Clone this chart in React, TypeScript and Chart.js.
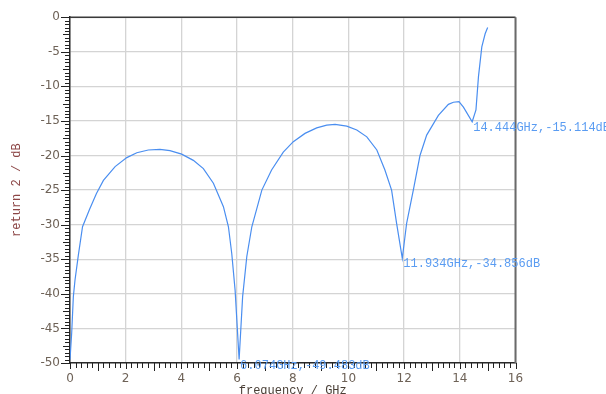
import React, { useEffect, useRef } from "react";
import { Chart, registerables } from "chart.js";

Chart.register(...registerables);

// frequency in GHz
const frequency: number[] = [
  0.0, 0.06, 0.12, 0.18, 0.3, 0.45, 0.7, 0.95, 1.2, 1.62, 2.04, 2.4, 2.81, 3.23,
  3.59, 4.01, 4.43, 4.79, 5.15, 5.51, 5.69, 5.81, 5.93, 6.074, 6.2, 6.35, 6.53,
  6.89, 7.24, 7.66, 8.02, 8.44, 8.86, 9.22, 9.52, 9.94, 10.3, 10.66, 11.02,
  11.31, 11.55, 11.73, 11.934, 12.09, 12.33, 12.57, 12.81, 13.23, 13.59, 13.77,
  13.97, 14.13, 14.444, 14.58, 14.67, 14.79, 14.91, 15.0,
];
// return 2 in dB
const returnLoss: number[] = [
  -49.5, -45.7, -40.4, -38.0, -34.4, -30.3, -27.8, -25.5, -23.6, -21.6, -20.3,
  -19.6, -19.2, -19.1, -19.3, -19.8, -20.7, -21.9, -24.0, -27.4, -30.3, -34.2,
  -39.5, -49.483, -40.4, -34.6, -30.3, -25.0, -22.1, -19.5, -18.0, -16.8, -16.0,
  -15.6, -15.5, -15.75, -16.3, -17.3, -19.2, -22.1, -25.0, -29.8, -34.856, -29.8,
  -25.0, -20.0, -17.05, -14.2, -12.6, -12.3, -12.2, -13.0, -15.114, -13.4, -8.6,
  -4.3, -2.4, -1.5,
];
// marker annotations
const markerFreq: number[] = [6.074, 11.934, 14.444];
const markerDb: number[] = [-49.483, -34.856, -15.114];

const X_MIN = 0;
const X_MAX = 16;
const Y_MIN = -50;
const Y_MAX = 0;

const decorPlugin = {
  id: "decor",
  afterDraw(chart: any) {
    const { ctx, chartArea } = chart;
    const xs = chart.scales.x;
    const ys = chart.scales.y;
    ctx.save();
    // top border
    ctx.strokeStyle = "#3a3a3a";
    ctx.lineWidth = 1.5;
    ctx.beginPath();
    ctx.moveTo(chartArea.left, chartArea.top);
    ctx.lineTo(chartArea.right, chartArea.top);
    ctx.stroke();
    // right border
    ctx.strokeStyle = "#6a6a6a";
    ctx.lineWidth = 2;
    ctx.beginPath();
    ctx.moveTo(chartArea.right, chartArea.top);
    ctx.lineTo(chartArea.right, chartArea.bottom);
    ctx.stroke();
    // y ticks (outside, left)
    ctx.strokeStyle = "#222";
    ctx.lineWidth = 1;
    for (let i = 0; i <= 100; i++) {
      const v = Y_MAX - i * 0.5;
      const py = Math.round(ys.getPixelForValue(v)) + 0.5;
      const len = i % 10 === 0 ? 9 : i % 5 === 0 ? 7 : 5;
      ctx.beginPath();
      ctx.moveTo(chartArea.left - len, py);
      ctx.lineTo(chartArea.left, py);
      ctx.stroke();
    }
    // x ticks (outside, below)
    for (let i = 0; i <= 80; i++) {
      const f = X_MIN + i * 0.2;
      const px = Math.round(xs.getPixelForValue(f)) + 0.5;
      const len = i % 10 === 0 ? 6 : i % 5 === 0 ? 8 : 5;
      ctx.beginPath();
      ctx.moveTo(px, chartArea.bottom);
      ctx.lineTo(px, chartArea.bottom + len);
      ctx.stroke();
    }
    // marker annotations
    ctx.fillStyle = "#5a9cf2";
    ctx.font = "12px 'Liberation Mono', 'DejaVu Sans Mono', monospace";
    ctx.textBaseline = "top";
    ctx.textAlign = "left";
    for (let k = 0; k < markerFreq.length; k++) {
      const px = xs.getPixelForValue(markerFreq[k]);
      const py = ys.getPixelForValue(markerDb[k]);
      const label = `${markerFreq[k].toFixed(3)}GHz,${markerDb[k].toFixed(3)}dB`;
      ctx.fillText(label, px + 1, py);
    }
    ctx.restore();
  },
};

export default function App() {
  const ref = useRef<HTMLCanvasElement | null>(null);
  useEffect(() => {
    if (!ref.current) return;
    const points = frequency.map((f, i) => ({ x: f, y: returnLoss[i] }));
    const chart = new Chart(ref.current, {
      type: "line",
      data: {
        datasets: [
          {
            data: points,
            borderColor: "#4a8ef0",
            borderWidth: 1.2,
            pointRadius: 0,
            tension: 0,
            fill: false,
          },
        ],
      },
      options: {
        animation: false,
        responsive: false,
        events: [],
        layout: { padding: { left: 0, top: 17, right: 90.5, bottom: 0 } },
        plugins: { legend: { display: false }, tooltip: { enabled: false } },
        scales: {
          x: {
            type: "linear",
            min: X_MIN,
            max: X_MAX,
            afterFit: (s: any) => {
              s.height = 31;
            },
            ticks: {
              stepSize: 2,
              padding: 9,
              maxRotation: 0,
              color: "#6e6257",
              font: { family: "'DejaVu Sans', sans-serif", size: 12 },
            },
            grid: { color: "#d4d4d4", lineWidth: 1.3, drawTicks: false },
            border: { color: "#2a2a2a", width: 1.5 },
            title: {
              display: true,
              text: "frequency / GHz",
              color: "#4a3f36",
              font: { family: "'Liberation Mono', monospace", size: 12 },
              padding: { top: 0, bottom: -4 },
            },
          },
          y: {
            type: "linear",
            min: Y_MIN,
            max: Y_MAX,
            afterFit: (s: any) => {
              s.width = 70;
            },
            ticks: {
              stepSize: 5,
              padding: 10,
              color: "#6e6257",
              font: { family: "'DejaVu Sans', sans-serif", size: 12 },
            },
            grid: { color: "#d4d4d4", lineWidth: 1.3, drawTicks: false },
            border: { color: "#2a2a2a", width: 1.5 },
            title: {
              display: true,
              text: "return 2 / dB",
              color: "#8c4646",
              font: { family: "'Liberation Mono', monospace", size: 12 },
              padding: { top: 10, bottom: 0 },
            },
          },
        },
      },
      plugins: [decorPlugin],
    });
    return () => chart.destroy();
  }, []);
  return (
    <div style={{ position: "fixed", left: 0, top: 0, width: 606, height: 394, background: "#fff" }}>
      <canvas ref={ref} width={606} height={394} style={{ width: 606, height: 394, display: "block" }} />
    </div>
  );
}
